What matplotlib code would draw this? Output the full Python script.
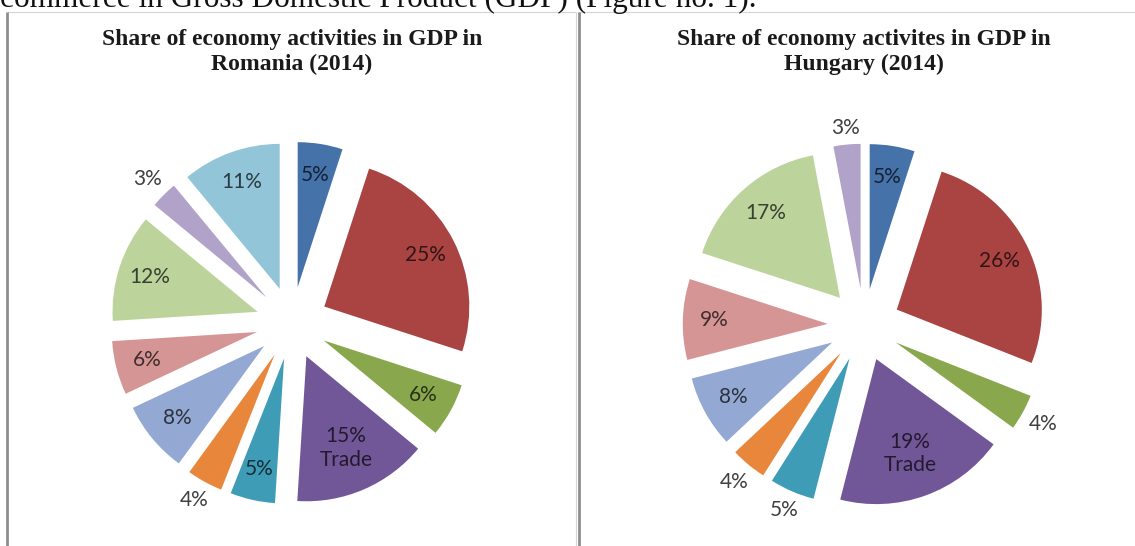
import numpy as np
import matplotlib.pyplot as plt
from matplotlib.lines import Line2D
from matplotlib.colors import to_rgb

# Shares of economic activities in GDP, clockwise from 12 o'clock
romania_shares = [5, 25, 6, 15, 5, 4, 8, 6, 12, 3, 11]
hungary_shares = [5, 26, 4, 19, 5, 4, 8, 9, 17, 3]
trade_index = 3

# slices whose label sits outside the pie
romania_outside = [5, 9]
hungary_outside = [2, 4, 5, 9]

romania_title = "Share of economy activities in GDP in\nRomania (2014)"
hungary_title = "Share of economy activites in GDP in\nHungary (2014)"
heading = "commerce in Gross Domestic Product (GDP) (Figure no. 1)."

slice_colors = ["#4572a9", "#a94442", "#89a84d", "#725798", "#3f9cb6",
                "#e8873b", "#93a9d3", "#d69595", "#bcd49c", "#b1a2c9",
                "#93c5d9"]

W, H = 1135, 546
R_PX = 145          # pie radius in pixels
EXPLODE = 0.25      # slice offset as a fraction of the radius
BOX = 400           # axes box size in pixels

fig = plt.figure(figsize=(W / 100, H / 100), dpi=100)
fig.patch.set_facecolor("white")


def px_line(x0, y0, x1, y1, color, lw):
    fig.add_artist(Line2D([x0 / W, x1 / W], [1 - y0 / H, 1 - y1 / H],
                          transform=fig.transFigure, color=color, lw=lw,
                          solid_capstyle="butt"))


# panel frames
px_line(7, 12, 576, 12, "#d4d4d4", 0.8)
px_line(576, 12, 576, H, "#d4d4d4", 0.8)
px_line(7, 12, 7, H, "#8e8e8e", 2.0)
px_line(578, 12, W, 12, "#d4d4d4", 0.8)
px_line(578.5, 12, 578.5, H, "#8e8e8e", 2.0)

# running text of the page above the figure, cut by the top edge
fig.text(0.0, 1 - 7.5 / H, heading, family="Liberation Serif", fontsize=22.5,
         ha="left", va="baseline", color="#111111")


def draw_pie(cx, cy, shares, outside, title):
    lim = BOX / 2 / R_PX
    ax = fig.add_axes([(cx - BOX / 2) / W, (H - cy - BOX / 2) / H, BOX / W, BOX / H])
    wedges, _ = ax.pie(shares, colors=slice_colors[:len(shares)],
                       explode=[EXPLODE] * len(shares), startangle=90,
                       counterclock=False, radius=1,
                       wedgeprops=dict(linewidth=0))
    ax.set_xlim(-lim, lim)
    ax.set_ylim(-lim, lim)
    ax.set_aspect("equal")
    ax.axis("off")

    for i, (w, v) in enumerate(zip(wedges, shares)):
        t = np.deg2rad((w.theta1 + w.theta2) / 2)
        ox, oy = w.center
        if i in outside:
            # push the label just past the rim, allowing for the text box
            r = 1 + (6 + 15 * abs(np.cos(t)) + 9 * abs(np.sin(t))) / R_PX
            ax.text(ox + r * np.cos(t), oy + r * np.sin(t), f"{v}%",
                    ha="center", va="center", fontsize=15, family="Lato",
                    color="#404040")
        else:
            dark = tuple(c * 0.3 for c in to_rgb(slice_colors[i]))
            if i == trade_index:
                label, r = f"{v}%\nTrade", 0.69
            else:
                label, r = f"{v}%", 0.78
            ax.text(ox + r * np.cos(t), oy + r * np.sin(t), label,
                    ha="center", va="center", fontsize=15, family="Lato",
                    color=dark, linespacing=1.2)

    fig.text(cx / W, 1 - 52 / H, title, ha="center", va="center",
             family="Liberation Serif", fontweight="bold", fontsize=17,
             linespacing=1.25, color="#1a1a1a")


draw_pie(292, 323, romania_shares, romania_outside, romania_title)
draw_pie(864, 325, hungary_shares, hungary_outside, hungary_title)

fig.savefig("out.png", dpi=100, facecolor="white")
